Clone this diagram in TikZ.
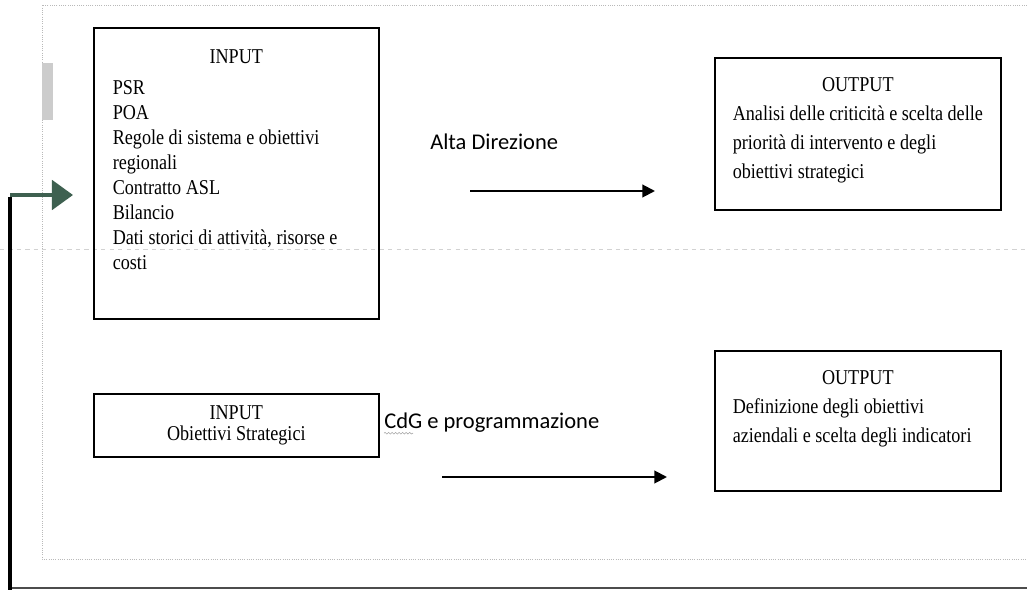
\documentclass[tikz,border=0pt]{standalone}
\usepackage{fontspec}
\setmainfont{Liberation Serif}[FakeStretch=0.86]
\newfontfamily\labelfont{Carlito}
\usetikzlibrary{arrows.meta,decorations.pathmorphing}

\definecolor{fbgreen}{RGB}{62,96,80}

\begin{document}
\begin{tikzpicture}[
        x=0.025cm, y=-0.025cm,
        iobox/.style={draw, line width=1.1pt, anchor=north west, inner xsep=0.475cm,
          inner ysep=0.55cm, font=\fontsize{15}{17.8}\selectfont},
        outbox/.style={iobox, inner xsep=0.45cm, inner ysep=0.5cm,
          font=\fontsize{15}{20.6}\selectfont},
        lbl/.style={inner sep=0pt, anchor=base west, font=\labelfont\fontsize{16}{18}\selectfont},
        flow/.style={line width=1.4pt, -{Triangle[length=9pt,width=9pt]}},
        frame/.style={gray!55, densely dotted, line width=0.6pt},
        spell/.style={gray!70, line width=0.4pt, decorate,
          decoration={snake, amplitude=0.6pt, segment length=2.5pt}}
      ]
      \useasboundingbox (0,0) rectangle (1027,590);

      % page marks of the scan
      \draw[frame] (1027,5) -- (42,5) -- (42,559) -- (1027,559);
      \draw[gray!35, dashed, line width=0.4pt] (0,249) -- (1027,249);
      \fill[gray!40] (42,63) rectangle (53,120);

      % input boxes
      \node[iobox, minimum width=7.125cm, minimum height=7.275cm] (inPlan) at (93,27)
        {\parbox[t][6.175cm][t]{6.175cm}{{\centering INPUT\par}\vspace{4pt}%
          PSR\\POA\\Regole di sistema e obiettivi\\regionali\\Contratto ASL\\Bilancio\\
          Dati storici di attività, risorse e\\costi}};
      \node[iobox, inner ysep=2pt, align=center, font=\fontsize{15}{15.5}\selectfont,
        minimum width=7.125cm, minimum height=1.575cm] (inStrat) at (93,393)
        {INPUT\\Obiettivi Strategici};

      % output boxes
      \node[outbox, minimum width=7.15cm, minimum height=3.8cm] (outPlan) at (714,57)
        {\parbox[t][2.8cm][t]{6.25cm}{{\centering OUTPUT\par}%
          Analisi delle criticità e scelta delle\\priorità di intervento e degli\\
          obiettivi strategici}};
      \node[outbox, minimum width=7.15cm, minimum height=3.5cm] (outStrat) at (714,350)
        {\parbox[t][2.5cm][t]{6.25cm}{{\centering OUTPUT\par}%
          Definizione degli obiettivi\\aziendali e scelta degli indicatori}};

      % actors and arrows
      \node[lbl] (altaDir) at (430,150) {Alta Direzione};
      \node[lbl] (cdgProg) at (384,429) {CdG e programmazione};
      \draw[spell] ([yshift=-3pt]cdgProg.base west) -- ++(29,0);

      \coordinate (adStart) at (470,191);
      \coordinate (adEnd) at (655,191);
      \draw[flow] (adStart) -- (adEnd);
      \coordinate (cpStart) at (442,477);
      \coordinate (cpEnd) at (667,477);
      \draw[flow] (cpStart) -- (cpEnd);

      % feedback line
      \coordinate (fbRight) at (1027,588);
      \coordinate (fbBottom) at (10,588);
      \coordinate (fbCorner) at (10,195);
      \coordinate (fbTip) at (73,195);
      \draw[black!70, line width=1.2pt] (fbRight) -- (fbBottom);
      \draw[line width=2.6pt] (10,590) -- ([yshift=-1.3pt]fbCorner);
      \draw[fbgreen, line width=2.6pt, -{Triangle[length=15pt,width=21pt]}]
        (fbCorner) -- (fbTip);
\end{tikzpicture}
\end{document}
